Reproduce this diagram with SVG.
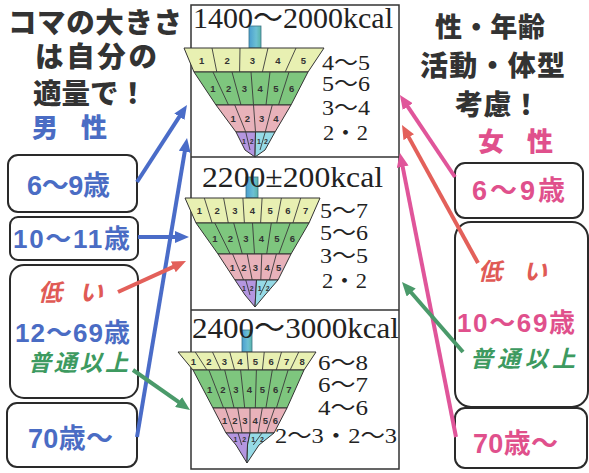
<svg xmlns="http://www.w3.org/2000/svg" width="589" height="473" viewBox="0 0 589 473">
  <defs>
    <style>
      .jp { font-family: 'Noto Sans CJK JP', sans-serif; font-weight: 900; }
      .jpb { font-family: 'Noto Sans CJK JP', sans-serif; font-weight: 700; }
      .lbl { font-family: 'Liberation Sans', 'Noto Sans CJK JP', sans-serif; font-weight: 700; }
      .ser { font-family: 'Liberation Serif', 'Noto Sans CJK JP', serif; fill: #222; }
      .box { fill: #fff; stroke: #2a2a2a; stroke-width: 2; }
      .frame { fill: #fff; stroke: #333; stroke-width: 1.5; }
      .r1 { fill: #e8f0b2; stroke: #333; stroke-width: 1; }
      .r2 { fill: #7ec67e; stroke: #333; stroke-width: 1; }
      .r3 { fill: #e8b2ba; stroke: #333; stroke-width: 1; }
      .r4a { fill: #b496e0; stroke: #333; stroke-width: 1; }
      .r4b { fill: #96dae6; stroke: #333; stroke-width: 1; }
      .div { stroke: #3a3a3a; stroke-width: 0.9; }
      .stem { fill: url(#stemGrad); stroke: #3a7488; stroke-width: 0.8; }
      .num { font-family: 'Liberation Sans', sans-serif; font-weight: 700; font-size: 9.5px; fill: #333; text-anchor: middle; }
      .tiny { font-family: 'Liberation Sans', sans-serif; font-weight: 700; font-size: 7px; fill: #333; text-anchor: middle; }
      .blue { fill: #4a6cc4; }
      .pink { fill: #e0508c; }
      .red { fill: #e05a55; }
      .green { fill: #3d9a60; }
      .dark { fill: #333; }
      .it { font-style: italic; }
      .a-blue { stroke: #4a6cc8; }
      .a-red { stroke: #e3605a; }
      .a-green { stroke: #4a9a6a; }
      .a-pink { stroke: #e0559a; }
      .conn path { fill: none; stroke-width: 4; }
    </style>
    <linearGradient id="stemGrad" x1="0" y1="0" x2="1" y2="0">
      <stop offset="0" stop-color="#4a9ed0"/>
      <stop offset="0.6" stop-color="#6cc0d4"/>
      <stop offset="1" stop-color="#5ab4a8"/>
    </linearGradient>
    <marker id="hBlue" markerUnits="userSpaceOnUse" markerWidth="14" markerHeight="12" refX="3" refY="6" orient="auto">
      <path d="M0,0 L14,6 L0,12 z" fill="#4a6cc8"/>
    </marker>
    <marker id="hRed" markerUnits="userSpaceOnUse" markerWidth="14" markerHeight="12" refX="3" refY="6" orient="auto">
      <path d="M0,0 L14,6 L0,12 z" fill="#e3605a"/>
    </marker>
    <marker id="hGreen" markerUnits="userSpaceOnUse" markerWidth="14" markerHeight="12" refX="3" refY="6" orient="auto">
      <path d="M0,0 L14,6 L0,12 z" fill="#4a9a6a"/>
    </marker>
    <marker id="hPink" markerUnits="userSpaceOnUse" markerWidth="14" markerHeight="12" refX="3" refY="6" orient="auto">
      <path d="M0,0 L14,6 L0,12 z" fill="#e0559a"/>
    </marker>
  </defs>

  <rect width="589" height="473" fill="#fff"/>

  <!-- headings -->
  <g id="heading-left" class="jp">
    <text x="8" y="33" font-size="28.5" class="dark" textLength="174">コマの大きさ</text>
    <text x="35" y="67" font-size="28.5" class="dark" textLength="122">は自分の</text>
    <text x="33" y="104" font-size="28.5" class="dark" textLength="114">適量で！</text>
    <text x="32" y="137" font-size="26" class="blue">男</text>
    <text x="81" y="137" font-size="26" class="blue">性</text>
  </g>
  <g id="heading-right" class="jp">
    <text x="435" y="37" font-size="27" class="dark" textLength="110">性・年齢</text>
    <text x="420" y="76" font-size="28" class="dark" textLength="145">活動・体型</text>
    <text x="455" y="115" font-size="28" class="dark" textLength="85">考慮！</text>
    <text x="478" y="151" font-size="26" class="pink">女</text>
    <text x="527" y="151" font-size="26" class="pink">性</text>
  </g>

  <!-- central frame with three energy bands -->
  <g id="frame">
    <rect class="frame" x="191" y="5" width="208" height="464"/>
    <line x1="191" y1="157" x2="399" y2="157" stroke="#333" stroke-width="1.5"/>
    <line x1="191" y1="310" x2="399" y2="310" stroke="#333" stroke-width="1.5"/>
  </g>

  <!-- spinning top 1: 1400-2000 kcal -->
  <g id="top-1400">
    <rect class="stem" x="249" y="26" width="12" height="22"/>
    <polygon class="r1" points="184,48 324,48 308,72 194,72"/>
    <polygon class="r2" points="194,72 308,72 291,105 216,105"/>
    <polygon class="r3" points="216,105 291,105 275,132 236,132"/>
    <polygon class="r4a" points="236,132 255.5,132 255,157 245,150"/>
    <polygon class="r4b" points="255.5,132 275,132 265,150 255,157"/>
    <g class="div">
      <line x1="212" y1="48" x2="216.8" y2="72"/><line x1="240" y1="48" x2="239.6" y2="72"/>
      <line x1="268" y1="48" x2="262.4" y2="72"/><line x1="296" y1="48" x2="285.2" y2="72"/>
      <line x1="213" y1="72" x2="228.5" y2="105"/><line x1="232" y1="72" x2="241" y2="105"/>
      <line x1="251" y1="72" x2="253.5" y2="105"/><line x1="270" y1="72" x2="266" y2="105"/>
      <line x1="289" y1="72" x2="278.5" y2="105"/>
      <line x1="234.75" y1="105" x2="245.75" y2="132"/><line x1="253.5" y1="105" x2="255.5" y2="132"/>
      <line x1="272.25" y1="105" x2="265.25" y2="132"/>
      <line x1="245.75" y1="132" x2="250" y2="150"/><line x1="265.25" y1="132" x2="260" y2="150"/>
    </g>
    <text class="num" x="201.7" y="63.5">1</text><text class="num" x="227.1" y="63.5">2</text>
    <text class="num" x="252.5" y="63.5">3</text><text class="num" x="277.9" y="63.5">4</text>
    <text class="num" x="303.3" y="63.5">5</text>
    <text class="num" x="212.9" y="92">1</text><text class="num" x="228.6" y="92">2</text>
    <text class="num" x="244.4" y="92">3</text><text class="num" x="260.1" y="92">4</text>
    <text class="num" x="275.9" y="92">5</text><text class="num" x="291.6" y="92">6</text>
    <text class="num" x="233.1" y="122">1</text><text class="num" x="247.4" y="122">2</text>
    <text class="num" x="261.6" y="122">3</text><text class="num" x="275.9" y="122">4</text>
    <text class="tiny" x="244" y="144">1</text><text class="tiny" x="251.6" y="144">2</text>
    <text class="tiny" x="259" y="144">1</text><text class="tiny" x="266" y="144">2</text>
    <text class="ser" x="193" y="28" font-size="30" textLength="200" lengthAdjust="spacingAndGlyphs">1400～2000kcal</text>
    <text class="ser" x="322" y="70" font-size="22" textLength="48" lengthAdjust="spacingAndGlyphs">4～5</text>
    <text class="ser" x="322" y="91" font-size="22" textLength="48" lengthAdjust="spacingAndGlyphs">5～6</text>
    <text class="ser" x="322" y="115" font-size="22" textLength="48" lengthAdjust="spacingAndGlyphs">3～4</text>
    <text class="ser" x="323" y="140" font-size="22" textLength="45" lengthAdjust="spacingAndGlyphs">2・2</text>
  </g>

  <!-- spinning top 2: 2200±200 kcal -->
  <g id="top-2200">
    <rect class="stem" x="246" y="177" width="12" height="21"/>
    <polygon class="r1" points="185,198 320,198 309,223 196,223"/>
    <polygon class="r2" points="196,223 309,223 291,254 218,254"/>
    <polygon class="r3" points="218,254 291,254 278,280 235,280"/>
    <polygon class="r4a" points="235,280 256.5,280 255,307 245,295"/>
    <polygon class="r4b" points="256.5,280 278,280 265,295 255,307"/>
    <g class="div">
      <line x1="204.3" y1="198" x2="212.1" y2="223"/><line x1="223.6" y1="198" x2="228.3" y2="223"/>
      <line x1="242.9" y1="198" x2="244.4" y2="223"/><line x1="262.1" y1="198" x2="260.6" y2="223"/>
      <line x1="281.4" y1="198" x2="276.7" y2="223"/><line x1="300.7" y1="198" x2="292.9" y2="223"/>
      <line x1="214.8" y1="223" x2="230.2" y2="254"/><line x1="233.7" y1="223" x2="242.3" y2="254"/>
      <line x1="252.5" y1="223" x2="254.5" y2="254"/><line x1="271.3" y1="223" x2="266.7" y2="254"/>
      <line x1="290.2" y1="223" x2="278.8" y2="254"/>
      <line x1="232.6" y1="254" x2="243.6" y2="280"/><line x1="247.2" y1="254" x2="252.2" y2="280"/>
      <line x1="261.8" y1="254" x2="260.8" y2="280"/><line x1="276.4" y1="254" x2="269.4" y2="280"/>
      <line x1="245.75" y1="280" x2="250" y2="295"/><line x1="267.25" y1="280" x2="260" y2="295"/>
    </g>
    <text class="num" x="199.4" y="214">1</text><text class="num" x="217.1" y="214">2</text>
    <text class="num" x="234.8" y="214">3</text><text class="num" x="252.5" y="214">4</text>
    <text class="num" x="270.2" y="214">5</text><text class="num" x="287.9" y="214">6</text>
    <text class="num" x="305.6" y="214">7</text>
    <text class="num" x="214.8" y="242">1</text><text class="num" x="230.3" y="242">2</text>
    <text class="num" x="245.8" y="242">3</text><text class="num" x="261.3" y="242">4</text>
    <text class="num" x="276.8" y="242">5</text><text class="num" x="292.3" y="242">6</text>
    <text class="num" x="232.3" y="270.5">1</text><text class="num" x="243.9" y="270.5">2</text>
    <text class="num" x="255.5" y="270.5">3</text><text class="num" x="267.1" y="270.5">4</text>
    <text class="num" x="278.7" y="270.5">5</text>
    <text class="tiny" x="243.9" y="290.5">1</text><text class="tiny" x="251.8" y="290.5">2</text>
    <text class="tiny" x="259.7" y="290.5">1</text><text class="tiny" x="267.6" y="290.5">2</text>
    <text class="ser" x="202" y="187" font-size="30" textLength="181" lengthAdjust="spacingAndGlyphs">2200±200kcal</text>
    <text class="ser" x="320" y="218" font-size="22" textLength="48" lengthAdjust="spacingAndGlyphs">5～7</text>
    <text class="ser" x="320" y="240" font-size="22" textLength="48" lengthAdjust="spacingAndGlyphs">5～6</text>
    <text class="ser" x="320" y="263" font-size="22" textLength="48" lengthAdjust="spacingAndGlyphs">3～5</text>
    <text class="ser" x="322" y="288" font-size="22" textLength="45" lengthAdjust="spacingAndGlyphs">2・2</text>
  </g>

  <!-- spinning top 3: 2400-3000 kcal -->
  <g id="top-2400">
    <rect class="stem" x="242" y="330" width="10" height="22"/>
    <polygon class="r1" points="178,352 316,352 304,370 193,370"/>
    <polygon class="r2" points="193,370 304,370 287,408 213,408"/>
    <polygon class="r3" points="213,408 287,408 274,433 226,433"/>
    <polygon class="r4a" points="226,433 250,433 247.5,445 247,463 236,445"/>
    <polygon class="r4b" points="250,433 274,433 259,445 247,463 247.5,445"/>
    <g class="div">
      <line x1="195.25" y1="352" x2="206.9" y2="370"/><line x1="212.5" y1="352" x2="220.75" y2="370"/>
      <line x1="229.75" y1="352" x2="234.6" y2="370"/><line x1="247" y1="352" x2="248.5" y2="370"/>
      <line x1="264.25" y1="352" x2="262.4" y2="370"/><line x1="281.5" y1="352" x2="276.25" y2="370"/>
      <line x1="298.75" y1="352" x2="290.1" y2="370"/>
      <line x1="208.9" y1="370" x2="223.6" y2="408"/><line x1="224.7" y1="370" x2="234.1" y2="408"/>
      <line x1="240.6" y1="370" x2="244.7" y2="408"/><line x1="256.4" y1="370" x2="255.3" y2="408"/>
      <line x1="272.3" y1="370" x2="265.9" y2="408"/><line x1="288.1" y1="370" x2="276.4" y2="408"/>
      <line x1="225.3" y1="408" x2="234" y2="433"/><line x1="237.7" y1="408" x2="242" y2="433"/>
      <line x1="250" y1="408" x2="250" y2="433"/><line x1="262.3" y1="408" x2="258" y2="433"/>
      <line x1="274.7" y1="408" x2="266" y2="433"/>
      <line x1="238" y1="433" x2="241.75" y2="445"/><line x1="262" y1="433" x2="253.25" y2="445"/>
    </g>
    <text class="num" x="193.3" y="364.5" font-size="8.5">1</text><text class="num" x="208.8" y="364.5">2</text>
    <text class="num" x="224.4" y="364.5">3</text><text class="num" x="240" y="364.5">4</text>
    <text class="num" x="255.5" y="364.5">5</text><text class="num" x="271.1" y="364.5">6</text>
    <text class="num" x="286.7" y="364.5">7</text><text class="num" x="302.2" y="364.5">8</text>
    <text class="num" x="209.6" y="392.5">1</text><text class="num" x="222.8" y="392.5">2</text>
    <text class="num" x="236" y="392.5">3</text><text class="num" x="249.3" y="392.5">4</text>
    <text class="num" x="262.5" y="392.5">5</text><text class="num" x="275.7" y="392.5">6</text>
    <text class="num" x="288.9" y="392.5">7</text>
    <text class="num" x="224.6" y="424">1</text><text class="num" x="234.8" y="424">2</text>
    <text class="num" x="244.9" y="424">3</text><text class="num" x="255.1" y="424">4</text>
    <text class="num" x="265.3" y="424">5</text><text class="num" x="275.4" y="424">6</text>
    <text class="tiny" x="235.4" y="441.5" font-size="5.5">1</text><text class="tiny" x="244.3" y="441.5">2</text>
    <text class="tiny" x="253.2" y="441.5">1</text><text class="tiny" x="262" y="441.5">2</text>
    <text class="ser" x="192" y="338" font-size="30" textLength="207" lengthAdjust="spacingAndGlyphs">2400～3000kcal</text>
    <text class="ser" x="318" y="370" font-size="22" textLength="50" lengthAdjust="spacingAndGlyphs">6～8</text>
    <text class="ser" x="318" y="392" font-size="22" textLength="50" lengthAdjust="spacingAndGlyphs">6～7</text>
    <text class="ser" x="318" y="415" font-size="22" textLength="50" lengthAdjust="spacingAndGlyphs">4～6</text>
    <text class="ser" x="275" y="443" font-size="22" textLength="122" lengthAdjust="spacingAndGlyphs">2～3・2～3</text>
  </g>

  <!-- age groups, male -->
  <g id="male-6-9">
    <rect class="box" x="8" y="155" width="129" height="57" rx="10"/>
    <text class="lbl blue" x="27" y="195" font-size="27" textLength="83">6～9歳</text>
  </g>
  <g id="male-10-11">
    <rect class="box" x="10" y="217" width="128" height="43" rx="8"/>
    <text class="lbl blue" x="13" y="248" font-size="26" textLength="117">10～11歳</text>
  </g>
  <g id="male-12-69">
    <rect class="box" x="10" y="265" width="128" height="133" rx="14"/>
    <text class="jpb red it" x="38" y="301" font-size="24" textLength="65">低 い</text>
    <text class="lbl blue" x="15" y="342" font-size="26" textLength="115">12～69歳</text>
    <text class="jpb green it" x="28" y="371" font-size="23" textLength="100">普通以上</text>
  </g>
  <g id="male-70">
    <rect class="box" x="7" y="403" width="130" height="64" rx="10"/>
    <text class="lbl blue" x="28" y="448" font-size="27" textLength="85">70歳～</text>
  </g>

  <!-- age groups, female -->
  <g id="female-6-9">
    <rect class="box" x="455" y="163" width="128" height="55" rx="10"/>
    <text class="lbl pink" x="472" y="200" font-size="27" textLength="93">6～9歳</text>
  </g>
  <g id="female-10-69">
    <rect class="box" x="455" y="222" width="133" height="185" rx="16"/>
    <text class="jpb red it" x="478" y="280" font-size="24" textLength="69">低 い</text>
    <text class="lbl pink" x="457" y="332" font-size="26" textLength="118">10～69歳</text>
    <text class="jpb green it" x="470" y="367" font-size="23" textLength="105">普通以上</text>
  </g>
  <g id="female-70">
    <rect class="box" x="455" y="408" width="132" height="60" rx="10"/>
    <text class="lbl pink" x="473" y="453" font-size="27" textLength="85">70歳～</text>
  </g>

  <!-- connectors -->
  <g id="connectors" class="conn">
    <path class="a-blue" d="M137,182 L181,114.2" marker-end="url(#hBlue)"/>
    <path class="a-blue" d="M137,437 L185.2,148.8" marker-end="url(#hBlue)"/>
    <path class="a-blue" d="M138,237 L178,237" marker-end="url(#hBlue)"/>
    <path class="a-red" d="M118,292 L176,265.6" marker-end="url(#hRed)"/>
    <path class="a-green" d="M133,370 L181,403.7" marker-end="url(#hGreen)"/>
    <path class="a-pink" d="M455,177 L406.1,104.1" marker-end="url(#hPink)"/>
    <path class="a-red" d="M478,263 L407.3,134.6" marker-end="url(#hRed)"/>
    <path class="a-pink" d="M456,437 L402.1,163.8" marker-end="url(#hPink)"/>
    <path class="a-green" d="M463,352 L409.2,290.3" marker-end="url(#hGreen)"/>
  </g>
</svg>
